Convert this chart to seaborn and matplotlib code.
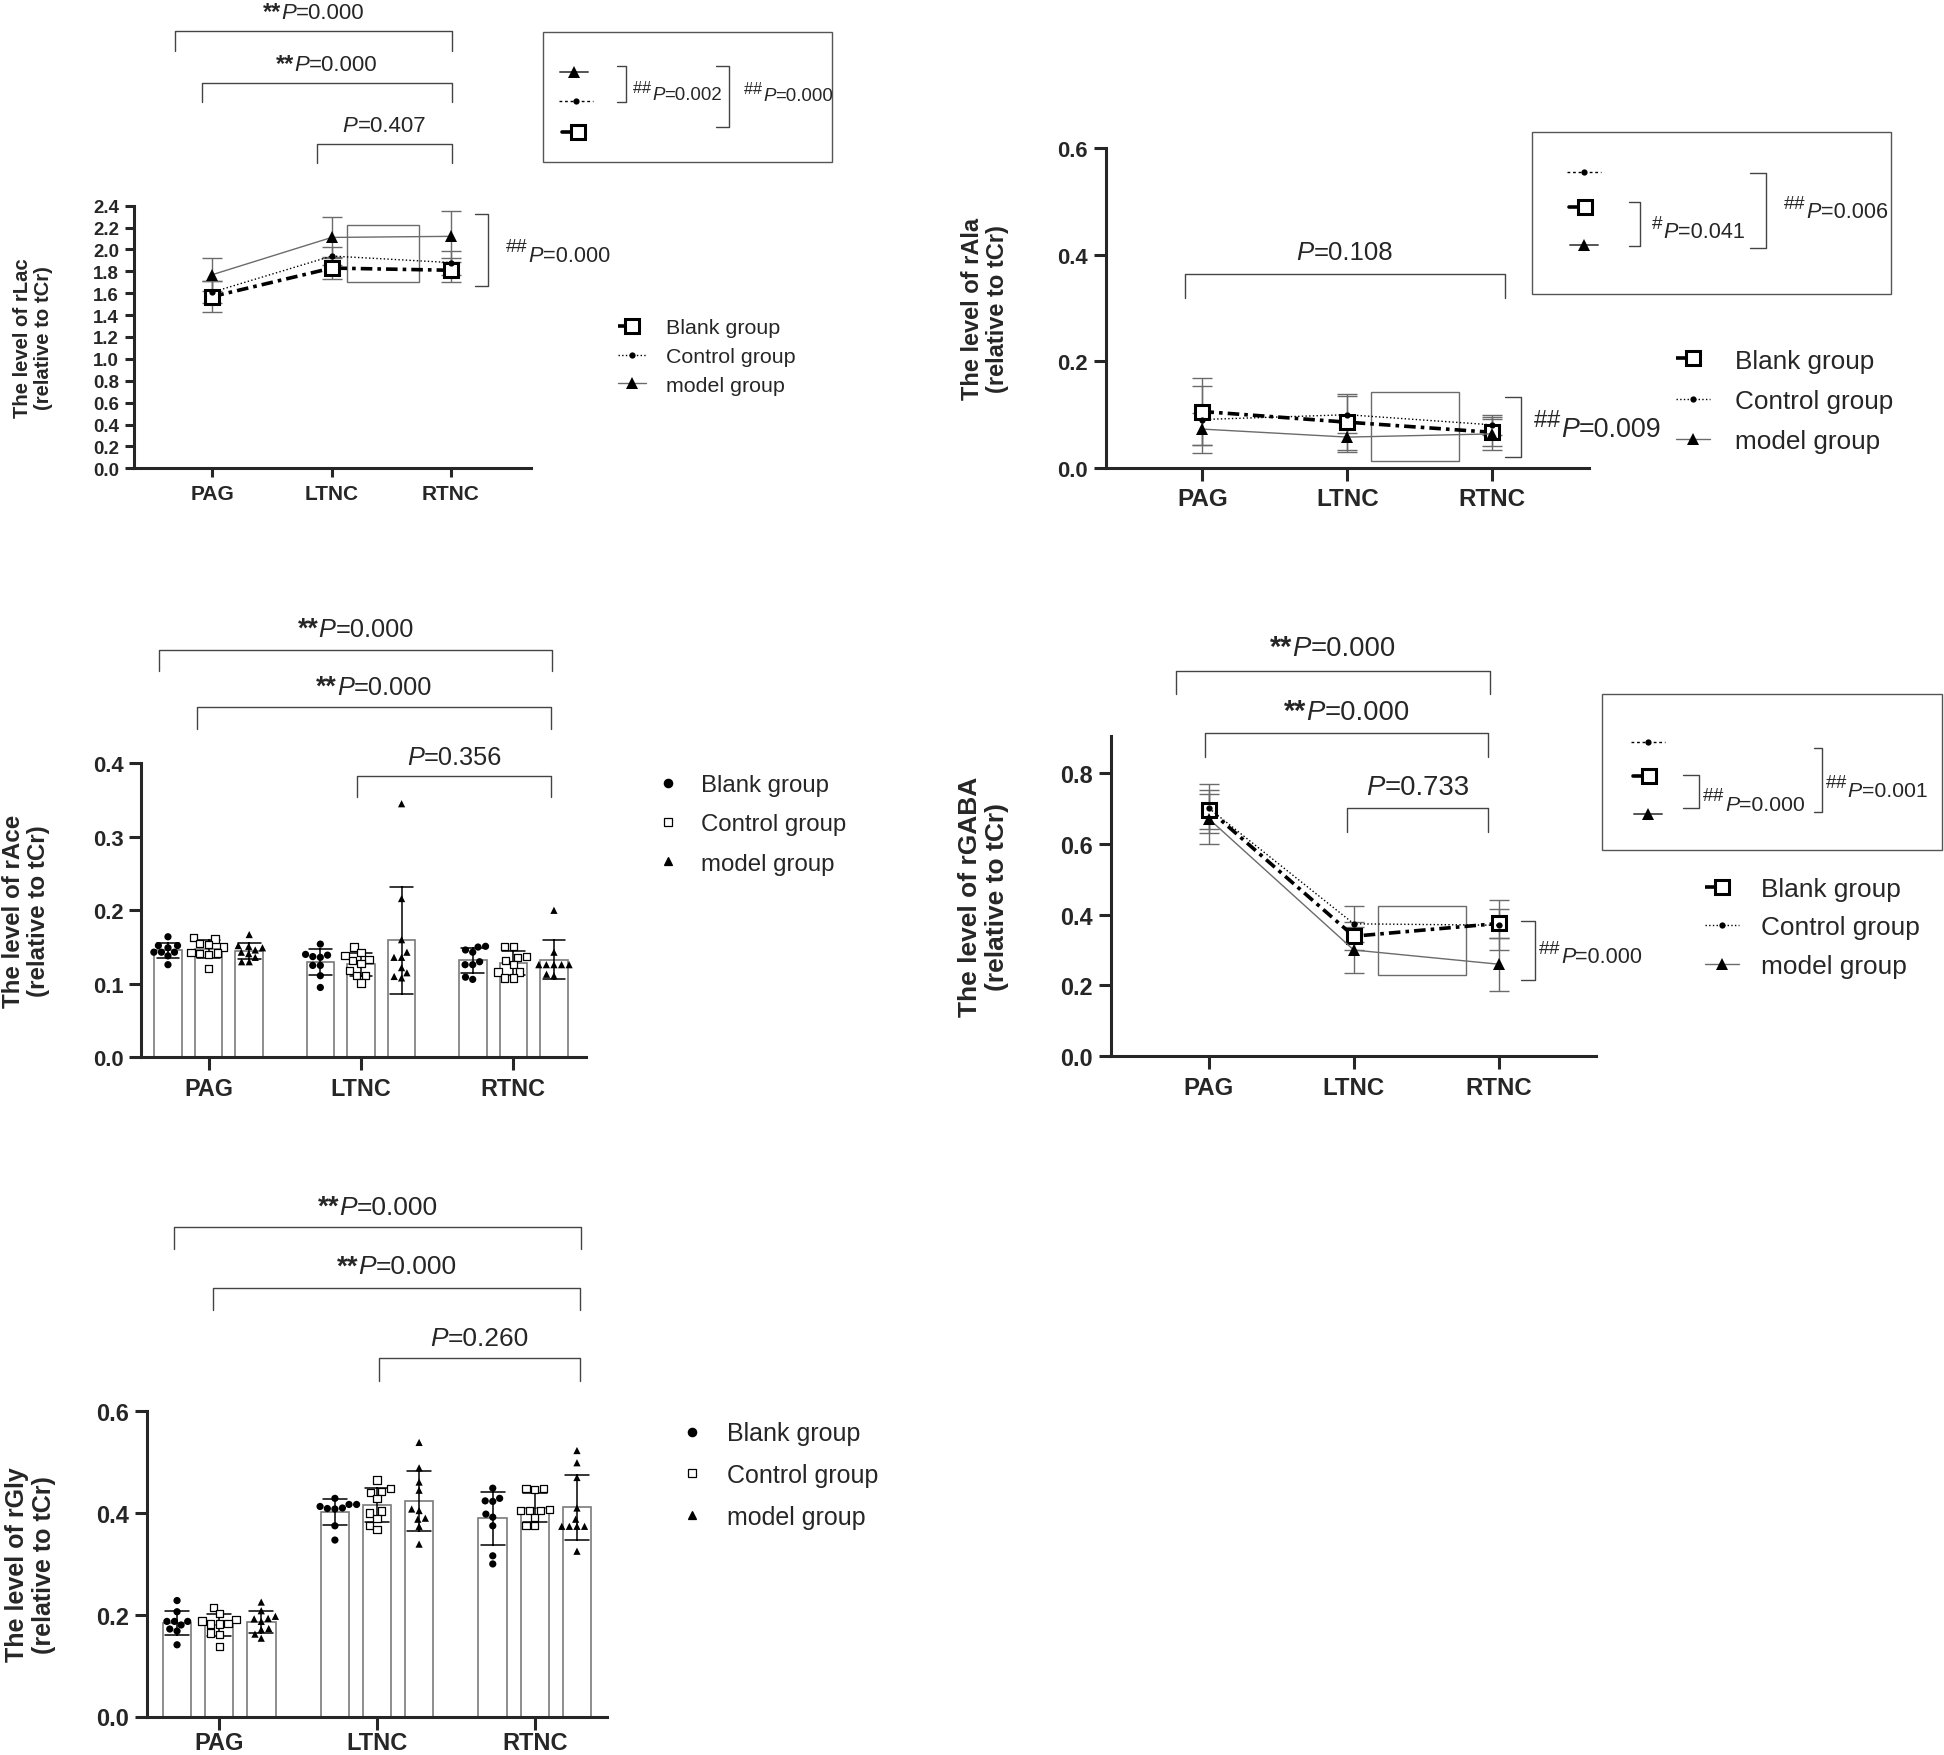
import numpy as np
import pandas as pd
import matplotlib
matplotlib.use("Agg")
import matplotlib.pyplot as plt
import seaborn as sns
from matplotlib.lines import Line2D
from matplotlib.patches import Rectangle
from matplotlib.ticker import FormatStrFormatter
from matplotlib.transforms import blended_transform_factory
from matplotlib.offsetbox import TextArea, HPacker, AnnotationBbox

# ---------------------------------------------------------------
# Data
REGIONS = ["PAG", "LTNC", "RTNC"]
GROUPS = ["Blank group", "Control group", "model group"]

# rLac, mean and SD per region
LAC_BLANK = [1.57, 1.83, 1.81]
LAC_CONTROL = [1.61, 1.94, 1.88]
LAC_MODEL = [1.77, 2.11, 2.12]
LAC_BLANK_SD = [0.14, 0.10, 0.11]
LAC_CONTROL_SD = [0.10, 0.08, 0.11]
LAC_MODEL_SD = [0.15, 0.19, 0.23]

# rAla
ALA_BLANK = [0.106, 0.086, 0.067]
ALA_CONTROL = [0.091, 0.100, 0.081]
ALA_MODEL = [0.073, 0.058, 0.064]
ALA_BLANK_SD = [0.062, 0.053, 0.025]
ALA_CONTROL_SD = [0.063, 0.035, 0.019]
ALA_MODEL_SD = [0.030, 0.028, 0.031]

# rGABA
GABA_BLANK = [0.696, 0.339, 0.375]
GABA_CONTROL = [0.700, 0.374, 0.370]
GABA_MODEL = [0.670, 0.300, 0.260]
GABA_BLANK_SD = [0.055, 0.040, 0.040]
GABA_CONTROL_SD = [0.070, 0.050, 0.070]
GABA_MODEL_SD = [0.070, 0.065, 0.075]

# rAce, single animals (PAG, LTNC, RTNC)
ACE_BLANK = [[0.164, 0.152, 0.152, 0.149, 0.143, 0.143, 0.143, 0.138, 0.126],
             [0.154, 0.137, 0.139, 0.136, 0.140, 0.125, 0.125, 0.111, 0.095],
             [0.151, 0.143, 0.146, 0.150, 0.130, 0.126, 0.126, 0.106, 0.109]]
ACE_CONTROL = [[0.163, 0.161, 0.153, 0.155, 0.150, 0.143, 0.141, 0.142, 0.140, 0.121],
               [0.150, 0.143, 0.138, 0.132, 0.133, 0.128, 0.118, 0.111, 0.111, 0.101],
               [0.151, 0.151, 0.136, 0.137, 0.126, 0.132, 0.116, 0.116, 0.108, 0.108]]
ACE_MODEL = [[0.167, 0.149, 0.151, 0.152, 0.146, 0.141, 0.143, 0.136, 0.130, 0.130],
             [0.345, 0.216, 0.160, 0.136, 0.143, 0.136, 0.122, 0.115, 0.110, 0.108],
             [0.200, 0.143, 0.126, 0.126, 0.126, 0.126, 0.126, 0.111, 0.113]]

# rGly, single animals
GLY_BLANK = [[0.228, 0.206, 0.187, 0.187, 0.187, 0.180, 0.172, 0.168, 0.141],
             [0.429, 0.417, 0.417, 0.409, 0.410, 0.413, 0.408, 0.375, 0.347],
             [0.449, 0.424, 0.423, 0.429, 0.398, 0.392, 0.375, 0.316, 0.300]]
GLY_CONTROL = [[0.215, 0.202, 0.190, 0.188, 0.182, 0.183, 0.182, 0.164, 0.162, 0.137],
               [0.465, 0.449, 0.443, 0.441, 0.429, 0.404, 0.400, 0.390, 0.375, 0.367],
               [0.449, 0.447, 0.449, 0.407, 0.405, 0.405, 0.405, 0.392, 0.375, 0.375]]
GLY_MODEL = [[0.225, 0.208, 0.192, 0.187, 0.197, 0.193, 0.171, 0.162, 0.173, 0.154],
             [0.539, 0.489, 0.461, 0.445, 0.405, 0.408, 0.388, 0.390, 0.374, 0.339],
             [0.523, 0.499, 0.470, 0.410, 0.388, 0.374, 0.374, 0.374, 0.374, 0.325]]

POS = np.arange(len(REGIONS))


def long_form(blank, control, model):
    rows = []
    for g, per_region in zip(GROUPS, [blank, control, model]):
        for r, vals in zip(REGIONS, per_region):
            for v in vals:
                rows.append((r, g, v))
    return pd.DataFrame(rows, columns=["region", "group", "value"])


ace = long_form(ACE_BLANK, ACE_CONTROL, ACE_MODEL)
gly = long_form(GLY_BLANK, GLY_CONTROL, GLY_MODEL)

# ---------------------------------------------------------------
sns.set_style("ticks")
plt.rcParams["font.family"] = ["Liberation Sans", "DejaVu Sans"]
plt.rcParams["mathtext.fontset"] = "custom"
plt.rcParams["mathtext.rm"] = "Liberation Sans"
plt.rcParams["mathtext.it"] = "Liberation Sans:italic"
plt.rcParams["mathtext.bf"] = "Liberation Sans:bold"

W, H = 1944, 1756
fig = plt.figure(figsize=(W / 100, H / 100), dpi=100)
fig.patch.set_facecolor("white")

ANN = "#444444"   # annotation grey


def fx(x):
    return x / W


def fy(y):
    return 1 - y / H


def make_axes(left, top, right, bottom):
    return fig.add_axes([fx(left), fy(bottom), (right - left) / W, (bottom - top) / H])


LINE_STYLES = {
    "Blank group": dict(color="black", lw=2.6, ls=(0, (3.2, 1.4, 1.0, 1.4)), marker="s",
                        ms=10, mfc="white", mec="black", mew=2.2),
    "Control group": dict(color="black", lw=1.0, ls=":", marker="o", ms=4.5,
                          mfc="black", mec="black", mew=0),
    "model group": dict(color="#6b6b6b", lw=1.0, ls="-", marker="^", ms=9,
                        mfc="black", mec="black", mew=0),
}
SWARM_MARKERS = {"Blank group": "o", "Control group": "s", "model group": "^"}
SWARM_FACE = {"Blank group": "black", "Control group": "white", "model group": "black"}
SWARM_LW = {"Blank group": 0, "Control group": 0.9, "model group": 0}


def ptext(x, y, value, size, stars="", sup="", ha=0.5, trans=None):
    parts = []
    if stars:
        parts.append(TextArea(stars, textprops=dict(fontsize=size * 1.05, fontweight="bold")))
    if sup:
        parts.append(TextArea("$^{" + sup + "}$", textprops=dict(fontsize=size * 1.25)))
    parts.append(TextArea("P", textprops=dict(fontsize=size, fontstyle="italic")))
    parts.append(TextArea("=" + value, textprops=dict(fontsize=size)))
    box = HPacker(children=parts, align="baseline", pad=0, sep=0)
    ab = AnnotationBbox(box, (x, y), xycoords=trans if trans is not None else fig.transFigure,
                        xybox=(0, -0.1 * size), boxcoords="offset points",
                        box_alignment=(ha, 0.5), frameon=False, pad=0)
    fig.add_artist(ab)


def figline(xs, ys, **kw):
    kw.setdefault("color", ANN)
    kw.setdefault("lw", 1.0)
    fig.add_artist(Line2D([fx(x) for x in xs], [fy(y) for y in ys],
                          transform=fig.transFigure, **kw))


def top_brackets(ax, brackets, size):
    trans = blended_transform_factory(ax.transData, fig.transFigure)
    for x0, x1, yl, yd, yt, stars, val in brackets:
        fig.add_artist(Line2D([x0, x0, x1, x1], [fy(yd), fy(yl), fy(yl), fy(yd)],
                              transform=trans, color=ANN, lw=1.0))
        ptext((x0 + x1) / 2, fy(yt), val, size, stars=stars, trans=trans)


def side_bracket(ax, x0, x1, y0, y1, tx, ty, val, size):
    ax.plot([x0, x1, x1, x0], [y0, y0, y1, y1], color=ANN, lw=1.0, clip_on=False)
    ptext(tx, ty, val, size, sup=r"\#\#", ha=0, trans=ax.transData)


def zoom_box(ax, x0, y0, x1, y1):
    ax.add_patch(Rectangle((x0, y0), x1 - x0, y1 - y0, fill=False,
                           edgecolor="#6b6b6b", lw=1.0, clip_on=False))


def key(g, kx, ky):
    st = LINE_STYLES[g]
    if g == "Blank group":
        figline([kx - 16, kx], [ky, ky], color="black", lw=2.6)
    elif g == "Control group":
        figline([kx - 17, kx + 17], [ky, ky], color="black", lw=1.0, ls=(0, (2, 2)))
    else:
        figline([kx - 14, kx + 14], [ky, ky], color="#555555", lw=1.4)
    fig.add_artist(Line2D([fx(kx)], [fy(ky)], transform=fig.transFigure, ls="none",
                          marker=st["marker"], ms=st["ms"], mfc=st["mfc"],
                          mec=st["mec"], mew=st["mew"]))


def inset(box, keys, brackets, size):
    x0, y0, x1, y1 = box
    fig.add_artist(Rectangle((fx(x0), fy(y1)), (x1 - x0) / W, (y1 - y0) / H,
                             transform=fig.transFigure, fill=False,
                             edgecolor="#555555", lw=1.0))
    for g, kx, ky in keys:
        key(g, kx, ky)
    for xt, xv, ya, yb, tx, ty, sup, val in brackets:
        figline([xt, xv, xv, xt], [ya, ya, yb, yb])
        ptext(fx(tx), fy(ty), val, size, sup=sup, ha=0)


def line_handles():
    hs = []
    for g in GROUPS:
        st = dict(LINE_STYLES[g])
        if g == "Blank group":
            st["ls"] = (0, (3, 10))
        hs.append(Line2D([], [], **st))
    return hs


def bar_handles():
    return [Line2D([], [], ls="none", marker=SWARM_MARKERS[g], ms=6,
                   mfc=SWARM_FACE[g], mec="black", mew=0.9) for g in GROUPS]


def add_legend(handles, mx, tx, ymid, fs, spacing, hl):
    fs_px = fs * 100 / 72
    left = mx - hl * fs_px / 2
    pad = (tx - left) / fs_px - hl
    fig.legend(handles=handles, labels=GROUPS, loc="center left",
               bbox_to_anchor=(fx(left), fy(ymid)), bbox_transform=fig.transFigure,
               frameon=False, fontsize=fs, handlelength=hl, handletextpad=pad,
               labelspacing=spacing, borderpad=0, borderaxespad=0)


def style_axes(ax, xlim, ylim, yticks, ysize, xsize, ylabel, label_x, label_size,
               ticklen, xpad=5):
    sns.despine(ax=ax)
    ax.set_xlim(*xlim)
    ax.set_ylim(*ylim)
    ax.set_yticks(yticks)
    ax.yaxis.set_major_formatter(FormatStrFormatter("%.1f"))
    ax.set_xticks(POS)
    ax.set_xticklabels(REGIONS)
    for sp in ax.spines.values():
        sp.set_linewidth(2.2)
    ax.tick_params(axis="y", labelsize=ysize, width=2.2, length=ticklen, pad=4)
    ax.tick_params(axis="x", labelsize=xsize, width=2.2, length=ticklen, pad=xpad)
    for lab in ax.get_xticklabels() + ax.get_yticklabels():
        lab.set_fontweight("bold")
    ax.set_xlabel("")
    ax.set_ylabel(ylabel, fontsize=label_size, fontweight="bold", va="center", linespacing=1.15)
    ax.yaxis.set_label_coords(fx(label_x), 0.5,
                              transform=blended_transform_factory(fig.transFigure, ax.transAxes))
    ax.set_facecolor("none")


def line_panel(ax, means, sds):
    for m, s in zip(means, sds):
        ax.errorbar(POS, m, yerr=s, fmt="none", ecolor="#6b6b6b", elinewidth=1.0,
                    capsize=7, capthick=1.0, zorder=2)
    for g, m in zip(GROUPS, means):
        sns.lineplot(x=POS, y=m, ax=ax, zorder=3, **LINE_STYLES[g])


def bar_panel(ax, df):
    sns.barplot(data=df, x="region", y="value", hue="group", order=REGIONS,
                hue_order=GROUPS, palette={g: "white" for g in GROUPS},
                edgecolor="#7a7a7a", linewidth=1.2, errorbar="sd", capsize=0.45,
                err_kws={"color": "black", "linewidth": 1.1}, width=0.8, gap=0.32,
                legend=False, ax=ax)
    for g in GROUPS:
        sns.swarmplot(data=df[df["group"] == g], x="region", y="value", hue="group",
                      order=REGIONS, hue_order=GROUPS, dodge=True, palette=SWARM_FACE,
                      marker=SWARM_MARKERS[g], size=5.2, edgecolor="black",
                      linewidth=SWARM_LW[g], legend=False, ax=ax)


# ---------------------------------------------------------------
# A: rLac
axA = make_axes(133.5, 206.7, 531, 469.3)
line_panel(axA, [LAC_BLANK, LAC_CONTROL, LAC_MODEL], [LAC_BLANK_SD, LAC_CONTROL_SD, LAC_MODEL_SD])
zoom_box(axA, 1.127, 1.706, 1.736, 2.224)
side_bracket(axA, 2.201, 2.308, 1.669, 2.325, 2.45, 1.98, "0.000", 15.7)
top_brackets(axA, [(-0.310, 2.008, 31.7, 51.7, 10, "**", "0.000"),
                   (-0.088, 2.008, 84, 103, 62, "**", "0.000"),
                   (0.876, 2.008, 145, 164, 124, "", "0.407")], 16)
inset((543.3, 33.3, 831.7, 163.3),
      [("model group", 573.5, 72.7), ("Control group", 576, 101.7), ("Blank group", 578, 133.3)],
      [(616.7, 626, 66.7, 102.7, 631.7, 91.7, r"\#\#", "0.002"),
       (716, 729.3, 66.7, 128.3, 742.7, 92.3, r"\#\#", "0.000")], 13.4)
add_legend(line_handles(), 632, 666, 357.5, 15.4, 0.45, 1.3)
style_axes(axA, (-0.662, 2.671), (0, 2.4), np.arange(0, 2.41, 0.2), 13.4, 15,
           "The level of rLac\n(relative to tCr)", 33, 14.6, 6.5)

# B: rAla
axB = make_axes(1106, 149.3, 1588.6, 469)
line_panel(axB, [ALA_BLANK, ALA_CONTROL, ALA_MODEL], [ALA_BLANK_SD, ALA_CONTROL_SD, ALA_MODEL_SD])
zoom_box(axB, 1.164, 0.0137, 1.771, 0.1432)
side_bracket(axB, 2.089, 2.196, 0.020, 0.1326, 2.28, 0.0807, "0.009", 19.4)
top_brackets(axB, [(-0.121, 2.089, 275.3, 299.3, 250.7, "", "0.108")], 18.5)
inset((1532, 133.3, 1891, 294.7),
      [("Control group", 1583.5, 173.3), ("Blank group", 1585, 208.3), ("model group", 1583.5, 246)],
      [(1628.5, 1639.5, 203.3, 246.7, 1651, 229, r"\#", "0.041"),
       (1749.5, 1765.6, 174, 249, 1783, 209, r"\#\#", "0.006")], 15.6)
add_legend(line_handles(), 1693, 1734.8, 402, 18.8, 0.63, 1.3)
style_axes(axB, (-0.666, 2.666), (0, 0.6), [0, 0.2, 0.4, 0.6], 15.8, 17.5,
           "The level of rAla\n(relative to tCr)", 985, 17, 9)

# C: rAce
axC = make_axes(141.4, 764.3, 585.7, 1058.3)
bar_panel(axC, ace)
top_brackets(axC, [(-0.325, 2.257, 650.7, 671.7, 627.3, "**", "0.000"),
                   (-0.076, 2.249, 708.3, 730, 685, "**", "0.000"),
                   (0.977, 2.249, 777.3, 798.3, 755, "", "0.356")], 18.3)
add_legend(bar_handles(), 667.6, 701, 825.5, 17.3, 0.71, 1.0)
style_axes(axC, (-0.441, 2.475), (0, 0.4), [0, 0.1, 0.2, 0.3, 0.4], 15.8, 16.8,
           "The level of rAce\n(relative to tCr)", 26, 17.4, 9)

# D: rGABA
axD = make_axes(1110.5, 736.7, 1596.4, 1057.3)
line_panel(axD, [GABA_BLANK, GABA_CONTROL, GABA_MODEL], [GABA_BLANK_SD, GABA_CONTROL_SD, GABA_MODEL_SD])
zoom_box(axD, 1.164, 0.2296, 1.778, 0.425)
side_bracket(axD, 2.155, 2.253, 0.2155, 0.383, 2.27, 0.291, "0.000", 15.5)
top_brackets(axD, [(-0.227, 1.942, 671.7, 695, 645, "**", "0.000"),
                   (-0.028, 1.929, 734, 757.7, 709.3, "**", "0.000"),
                   (0.955, 1.929, 809.3, 833.3, 785, "", "0.733")], 19.8)
inset((1601.5, 695, 1942, 850.7),
      [("Control group", 1647.8, 742.7), ("Blank group", 1649, 777.3), ("model group", 1647.8, 815)],
      [(1683.2, 1699.3, 776, 809.3, 1702, 801.7, r"\#\#", "0.000"),
       (1813.9, 1821.6, 749.3, 812.7, 1824.8, 788.3, r"\#\#", "0.001")], 15.3)
add_legend(line_handles(), 1721.8, 1760.5, 928.5, 18.9, 0.55, 1.3)
style_axes(axD, (-0.680, 2.675), (0, 0.905), [0, 0.2, 0.4, 0.6, 0.8], 16.8, 17.3,
           "The level of rGABA\n(relative to tCr)", 983.6, 19, 9)

# E: rGly
axE = make_axes(147, 1412.4, 607, 1717.5)
bar_panel(axE, gly)
top_brackets(axE, [(-0.285, 2.292, 1227.8, 1249.9, 1205, "**", "0.000"),
                   (-0.037, 2.286, 1288.5, 1310.5, 1264.6, "**", "0.000"),
                   (1.012, 2.286, 1359.4, 1381.5, 1336, "", "0.260")], 19)
add_legend(bar_handles(), 692.4, 727, 1476, 18, 0.7, 1.0)
style_axes(axE, (-0.457, 2.457), (0, 0.6), [0, 0.2, 0.4, 0.6], 17, 17,
           "The level of rGly\n(relative to tCr)", 30.5, 18, 9, xpad=1.5)

fig.savefig("out.png", dpi=100, facecolor="white")
